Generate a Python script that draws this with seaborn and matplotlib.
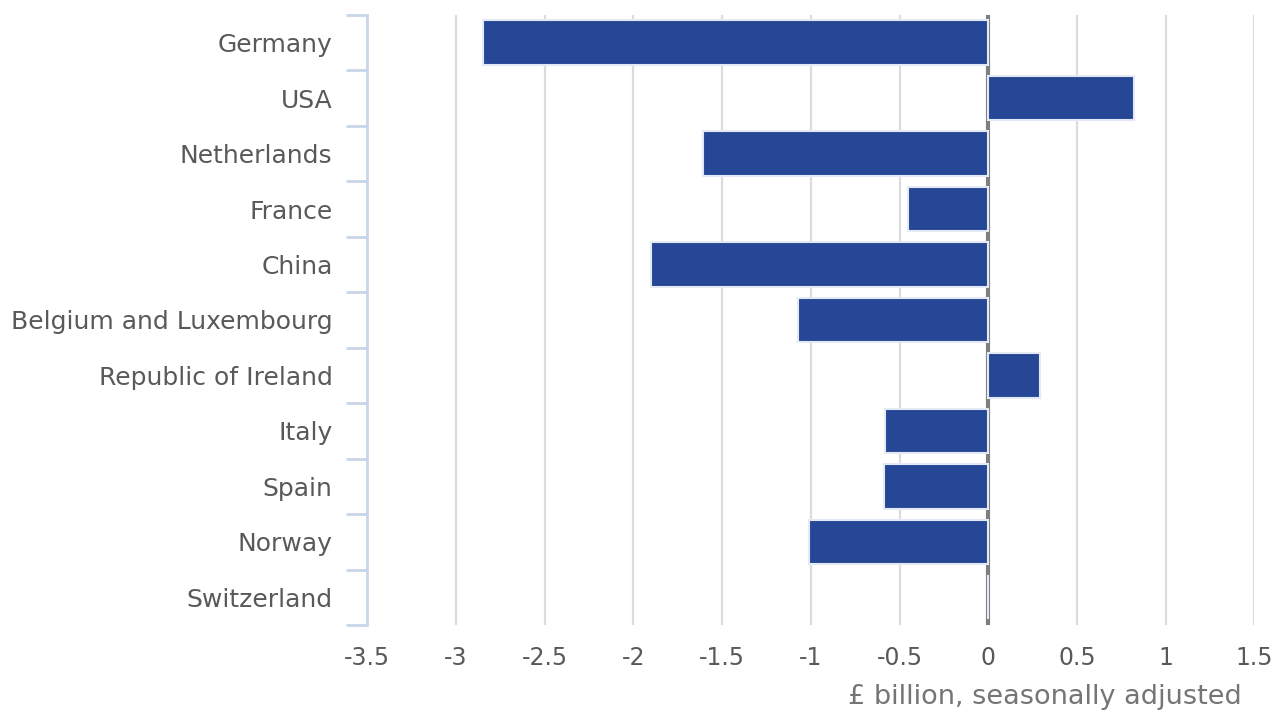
import matplotlib
matplotlib.use("Agg")
import matplotlib.pyplot as plt
import seaborn as sns
import pandas as pd
import numpy as np
from matplotlib.ticker import FixedLocator, FuncFormatter

countries = ["Germany", "USA", "Netherlands", "France", "China",
             "Belgium and Luxembourg", "Republic of Ireland", "Italy",
             "Spain", "Norway", "Switzerland"]
values = [-2.85, 0.82, -1.61, -0.45, -1.90, -1.07, 0.29, -0.58, -0.59, -1.01, 0.0]
xticks = [-3.5, -3, -2.5, -2, -1.5, -1, -0.5, 0, 0.5, 1, 1.5]
xlabel = "£ billion, seasonally adjusted"

df = pd.DataFrame({"country": countries, "value": values})

sns.set_style("white")
plt.rcParams["font.family"] = ["DejaVu Sans"]

fig = plt.figure(figsize=(12.84, 7.11), dpi=100)
ax = fig.add_axes([0.286, 0.121, 0.691, 0.858])

sns.barplot(data=df, y="country", x="value", orient="h", color="#264796",
            saturation=1, width=0.8, edgecolor="#e4eaf5", linewidth=1.5,
            ax=ax, zorder=3)

ax.set_xlim(-3.5, 1.5)
ax.set_ylim(len(countries) - 0.5, -0.5)
ax.xaxis.set_major_locator(FixedLocator(xticks))
ax.xaxis.set_major_formatter(FuncFormatter(lambda v, p: f"{v:g}"))
ax.grid(axis="x", color="#dcdcdc", linewidth=1.6, zorder=0)
ax.set_axisbelow(True)
ax.axvline(0, color="#7f7f7f", linewidth=3, zorder=2)

for s in ["top", "right", "bottom"]:
    ax.spines[s].set_visible(False)
ax.spines["left"].set_color("#c9d6ea")
ax.spines["left"].set_linewidth(2)

ax.tick_params(axis="y", which="major", left=False, length=0, pad=25, labelsize=18, labelcolor="#595959")
ax.yaxis.set_minor_locator(FixedLocator(np.arange(-0.5, len(countries) + 0.5, 1)))
ax.tick_params(axis="y", which="minor", left=True, length=15, width=2, color="#c9d6ea")
ax.tick_params(axis="x", length=0, pad=15, labelsize=17, labelcolor="#595959")

ax.set_ylabel("")
ax.set_xlabel(xlabel, fontsize=19.5, color="#757575", ha="right", va="center")
ax.xaxis.set_label_coords((1242 - 367) / 888, -(697 - 625) / 610)

fig.savefig("out.png", dpi=100)
